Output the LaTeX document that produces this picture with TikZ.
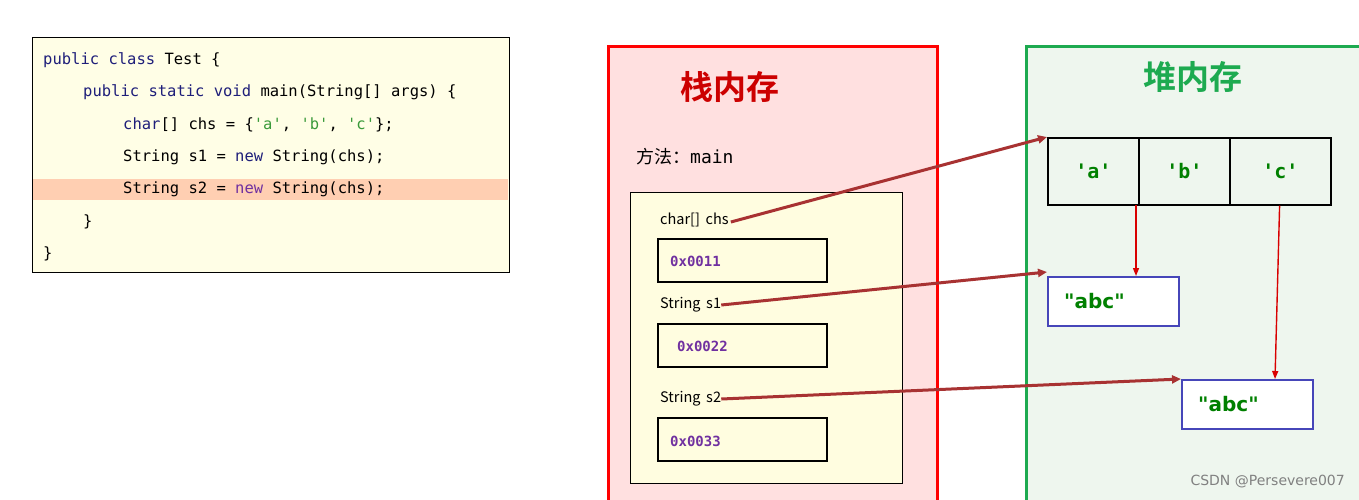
\documentclass[tikz,border=0pt]{standalone}
\usepackage{fontspec}
\setmainfont{DejaVu Sans}
\setmonofont{DejaVu Sans Mono}
\newfontfamily\cjk{Noto Sans CJK SC}
\newfontfamily\cjkb{Noto Sans CJK SC Bold}
\usetikzlibrary{arrows.meta}
\definecolor{kw}{HTML}{1F1F7A}
\definecolor{str}{HTML}{3A9A3A}
\definecolor{purp}{HTML}{7030A0}
\definecolor{gr}{HTML}{008000}
\definecolor{dred}{HTML}{A83232}
\definecolor{hgreen}{HTML}{1DAA50}
\tikzset{
 code/.style={anchor=west,inner sep=0pt,font=\ttfamily\fontsize{15.5}{16}\selectfont},
 addr/.style={draw=black,line width=1.6pt,minimum width=169pt,minimum height=43pt,inner sep=0pt},
 addrtxt/.style={anchor=west,inner sep=0pt,text=purp,font=\ttfamily\bfseries\fontsize{14}{14}\selectfont},
 lbl/.style={anchor=west,inner sep=0pt,font=\cjk\fontsize{14.5}{15}\selectfont},
 cell/.style={draw=black,line width=1.6pt,minimum width=91pt,minimum height=67pt,inner sep=0pt,text=gr,font=\ttfamily\bfseries\fontsize{20}{20}\selectfont},
 abc/.style={draw=blue!45!gray,line width=1.8pt,fill=white,minimum width=131pt,minimum height=49pt,inner sep=0pt},
 abctxt/.style={anchor=west,inner sep=0pt,text=gr,font=\bfseries\fontsize{20}{20}\selectfont},
 big/.style={-{Triangle[length=9pt,width=8pt]},dred,line width=3pt},
 thin/.style={-{Triangle[length=8pt,width=6pt]},red!85!black,line width=1.4pt},
}
\begin{document}
\begin{tikzpicture}[x=1pt,y=-1pt]
\useasboundingbox (0,0) rectangle (1359,499);
\fill[white] (0,0) rectangle (1359,499);
% code
\node[draw=black,line width=1.2pt,fill=yellow!10,minimum width=477pt,minimum height=235pt,inner sep=0pt,anchor=north west] (codebox) at (32,37) {};
\fill[red!25!orange!30] (32.6,179) rectangle (508.4,200);
\node[code] (l1) at (43,60) {\textcolor{kw}{public class} Test \{};
\node[code] (l2) at (83,92) {\textcolor{kw}{public static void} main(String[] args) \{};
\node[code] (l3) at (123,125) {\textcolor{kw}{char}[] chs = \{\textcolor{str}{'a'}, \textcolor{str}{'b'}, \textcolor{str}{'c'}\};};
\node[code] (l4) at (123,157) {String s1 = \textcolor{kw}{new} String(chs);};
\node[code] (l5) at (123,189) {String s2 = \textcolor{purp}{new} String(chs);};
\node[code] (l6) at (83,222) {\}};
\node[code] (l7) at (43,254) {\}};
% stack
\fill[red!12] (608,46) rectangle (937,505);
\draw[red,line width=3pt] (608,505) -- (608,46) -- (937,46) -- (937,505);
\node[text=red!80!black,font=\cjkb\fontsize{33}{33}\selectfont] (st) at (730,87) {栈内存};
\node[anchor=west,inner sep=0pt,font=\cjk\fontsize{18}{18}\selectfont] (m) at (636,157) {方法：\texttt{main}};
\node[draw=black,line width=1.2pt,fill=yellow!12,minimum width=272pt,minimum height=291pt,inner sep=0pt,anchor=north west] (frame) at (630,192) {};
\node[lbl] (chs) at (660,220) {char[]\, chs};
\node[addr,anchor=north west] (a1) at (657,238) {};
\node[addrtxt] (t1) at (670,261) {0x0011};
\node[lbl] (s1) at (660,305) {String\, s1};
\node[addr,anchor=north west] (a2) at (657,323) {};
\node[addrtxt] (t2) at (677,346) {0x0022};
\node[lbl] (s2) at (660,399) {String\, s2};
\node[addr,anchor=north west] (a3) at (657,417) {};
\node[addrtxt] (t3) at (670,441) {0x0033};
% heap
\fill[green!30!gray!10] (1026,46) rectangle (1362,505);
\draw[hgreen,line width=3pt] (1026,505) -- (1026,46) -- (1362,46);
\node[text=hgreen,font=\cjkb\fontsize{33}{33}\selectfont] (hp) at (1193,77) {堆内存};
\node[cell,anchor=north west] (ca) at (1047,137) {'a'};
\node[cell,anchor=north west] (cb) at (1138,137) {'b'};
\node[cell,anchor=north west,minimum width=101pt] (cc) at (1229,137) {'c'};
\node[abc,anchor=north west] (x1) at (1047,276) {};
\node[abctxt] at (1064,301) {\textquotedbl abc\textquotedbl};
\node[abc,anchor=north west] (x2) at (1181,379) {};
\node[abctxt] at (1198,404) {\textquotedbl abc\textquotedbl};
\node[anchor=east,inner sep=0pt,text=gray,font=\fontsize{14}{14}\selectfont] (wm) at (1345,482) {CSDN @Persevere007};
% arrows
\draw[thin] (1136,205) -- (x1.north -| 1136,0);
\draw[thin] ([xshift=-52pt]cc.south east) -- ([xshift=94pt]x2.north west);
\draw[big] (chs.east) ++(2,2) -- (ca.north west);
\draw[big] (s1.east) -- ([yshift=4pt]x1.north west);
\draw[big] (s2.east) -- ([yshift=0pt]x2.north west);
\end{tikzpicture}
\end{document}
